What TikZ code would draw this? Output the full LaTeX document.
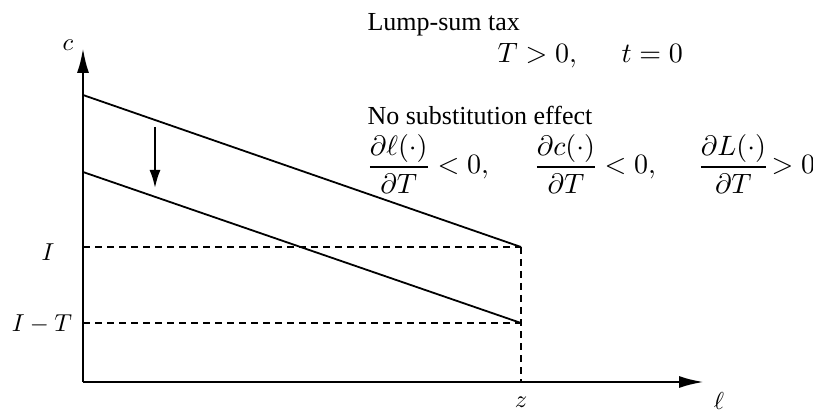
\documentclass[tikz,border=0pt]{standalone}
\usepackage{amsmath}
\usepackage{fontspec}
\setmainfont{Liberation Serif}
\usetikzlibrary{arrows.meta}
\begin{document}
\begin{tikzpicture}[x=1pt,y=-1pt,
  axis/.style={line width=2.6pt,-{Latex[length=25pt,width=12pt]}},
  budget/.style={line width=1.8pt},
  guide/.style={line width=1.8pt,dash pattern=on 7pt off 5pt},
  downarrow/.style={line width=2pt,-{Latex[length=18pt,width=11pt]}},
  lbl/.style={font=\fontsize{10}{12}\selectfont,inner sep=0pt,scale=2.45},
  txt/.style={font=\fontsize{10}{12}\selectfont,inner sep=0pt,anchor=base west,scale=2.6},
  mth/.style={font=\fontsize{10}{12}\selectfont,inner sep=0pt,anchor=base west,scale=2.8}]
\useasboundingbox (0,0) rectangle (813,411);
% axes
\coordinate (O) at (83,382);
\coordinate (ytip) at (83,48);
\coordinate (xtip) at (704,382);
\draw[axis] (O) -- (ytip);
\draw[axis] (O) -- (xtip);
% budget lines
\coordinate (A1) at (83,95);
\coordinate (B1) at (521,247);
\coordinate (A2) at (83,172);
\coordinate (B2) at (521,323);
\coordinate (IL) at (83,247);
\coordinate (ITL) at (83,323);
\coordinate (Z) at (521,382);
\draw[budget] (A1) -- (B1);
\draw[budget] (A2) -- (B2);
\draw[guide] (IL) -- (B1);
\draw[guide] (ITL) -- (B2);
\draw[guide] (B1) -- (Z);
% shift arrow
\coordinate (s1) at (155,127);
\coordinate (s2) at (155,188);
\draw[downarrow] (s1) -- (s2);
% labels
\node[lbl] (lc) at (68,45) {$c$};
\node[lbl] (lI) at (48,252) {$I$};
\node[lbl] (lIT) at (42,324) {$I-T$};
\node[lbl,anchor=north] (lz) at (521,396) {$z$};
\node[lbl,anchor=north] (ll) at (719,392) {$\ell$};
% text
\node[txt] (t1) at (367,31) {Lump-sum tax};
\node[mth] (t2a) at (497,63) {$T>0,$};
\node[mth] (t2b) at (621,63) {$t=0$};
\node[txt] (t3) at (367,125) {No substitution effect};
\node[mth] (f1) at (366,174) {$\dfrac{\partial \ell(\cdot)}{\partial T}$};
\node[mth] (r1) at (437,174) {$<0,$};
\node[mth] (f2) at (533,174) {$\dfrac{\partial c(\cdot)}{\partial T}$};
\node[mth] (r2) at (604,174) {$<0,$};
\node[mth] (f3) at (697,174) {$\dfrac{\partial L(\cdot)}{\partial T}$};
\node[mth] (r3) at (771,174) {$>0$};
\end{tikzpicture}
\end{document}
